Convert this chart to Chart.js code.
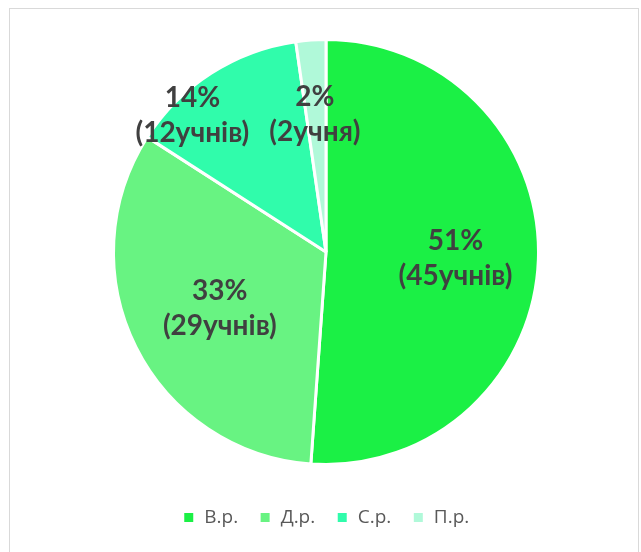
<!DOCTYPE html>
<html>
<head>
<meta charset="utf-8">
<script src="https://cdn.jsdelivr.net/npm/chart.js@4"></script>
<style>
  html, body { margin: 0; padding: 0; background: #fff; }
  #wrap { position: relative; width: 641px; height: 552px; }
  #frame { position: absolute; left: 9px; top: 8px; width: 630px; height: 560px; border: 1px solid #d9d9d9; box-sizing: border-box; }
  canvas { position: absolute; left: 0; top: 0; }
</style>
</head>
<body>
<div id="wrap">
  <div id="frame"></div>
  <canvas id="chart" width="641" height="552"></canvas>
</div>
<script>
// data
const categories = ['В.р.', 'Д.р.', 'С.р.', 'П.р.'];
const pupils = [45, 29, 12, 2];
const percentLabels = ['51%', '33%', '14%', '2%'];
const countLabels = ['(45учнів)', '(29учнів)', '(12учнів)', '(2учня)'];
const sliceColors = ['#1bf045', '#68f382', '#30fcab', '#b0f9d9'];

// label placement: fraction of radius + angle shift (deg) from slice middle
const labelPlace = [[0.61, 0.7], [0.565, -1.2], [0.9, -11.6], [0.65, -0.5]];

const sliceLabels = {
  id: 'sliceLabels',
  afterDatasetsDraw(chart) {
    const ctx = chart.ctx;
    const arcs = chart.getDatasetMeta(0).data;
    ctx.save();
    ctx.fillStyle = '#404040';
    ctx.font = 'bold 28px Lato, "Open Sans", sans-serif';
    ctx.textAlign = 'center';
    ctx.textBaseline = 'middle';
    arcs.forEach((arc, i) => {
      const p = arc.getProps(['x', 'y', 'startAngle', 'endAngle', 'outerRadius'], true);
      const a = (p.startAngle + p.endAngle) / 2 + labelPlace[i][1] * Math.PI / 180;
      const r = p.outerRadius * labelPlace[i][0];
      const x = p.x + Math.cos(a) * r;
      const y = p.y + Math.sin(a) * r;
      ctx.fillText(percentLabels[i], x, y - 17);
      ctx.fillText(countLabels[i], x, y + 18);
    });
    ctx.restore();
  }
};

new Chart(document.getElementById('chart'), {
  type: 'pie',
  data: {
    labels: categories,
    datasets: [{
      data: pupils,
      backgroundColor: sliceColors,
      borderColor: '#ffffff',
      borderWidth: 3
    }]
  },
  options: {
    responsive: false,
    animation: false,
    layout: { padding: { left: 112, right: 101, top: 17, bottom: 15 } },
    plugins: {
      tooltip: { enabled: false },
      legend: {
        position: 'bottom',
        labels: {
          usePointStyle: true,
          pointStyle: 'rect',
          boxWidth: 12,
          boxHeight: 12,
          padding: 21,
          color: '#595959',
          font: { size: 19, family: '"Open Sans", sans-serif' }
        }
      }
    }
  },
  plugins: [sliceLabels]
});
</script>
</body>
</html>
